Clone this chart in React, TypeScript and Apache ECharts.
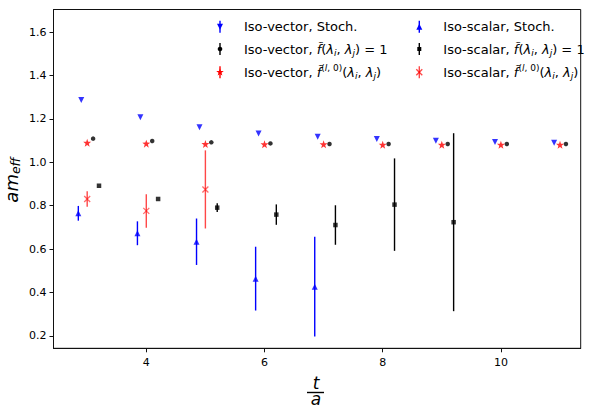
import React, { useEffect, useRef } from "react";
import * as echarts from "echarts";

// ---- data ----
const tSteps = [3, 4, 5, 6, 7, 8, 9, 10, 11];
const ivStoch = [1.287, 1.207, 1.161, 1.133, 1.118, 1.107, 1.099, 1.093, 1.09];
const ivF1 = [1.109, 1.098, 1.092, 1.087, 1.084, 1.084, 1.084, 1.084, 1.084];
const ivF0 = [1.09, 1.086, 1.084, 1.083, 1.083, 1.081, 1.081, 1.081, 1.081];

const isStochT = [3, 4, 5, 6, 7];
const isStoch = [0.765, 0.673, 0.634, 0.464, 0.427];
const isStochErr = [0.034, 0.055, 0.107, 0.147, 0.23];

const isF1T = [3, 4, 5, 6, 7, 8, 9];
const isF1 = [0.892, 0.831, 0.791, 0.759, 0.711, 0.805, 0.724];
const isF1Err = [0.0, 0.0, 0.02, 0.047, 0.091, 0.213, 0.41];

const isF0T = [3, 4, 5];
const isF0 = [0.831, 0.776, 0.875];
const isF0Err = [0.036, 0.077, 0.18];

// horizontal shifts of each series (as in the reference)
const shiftIvStoch = -0.1;
const shiftIvF1 = 0.1;
const shiftIvF0 = 0;
const shiftIsStoch = -0.15;
const shiftIsF1 = 0.2;
const shiftIsF0 = 0;

const xTicks = [4, 6, 8, 10];
const yTicks = [0.2, 0.4, 0.6, 0.8, 1.0, 1.2, 1.4, 1.6];

const FONT = "DejaVu Sans";
const FF = "'DejaVu Sans'";
const BLUE = "#0000ff";
const RED = "#ff0000";
const RED_LIGHT = "rgba(255,0,0,0.72)";
const BLACK = "#000000";

const STAR =
  "path://M0,-10L2.35,-3.24L9.51,-3.09L3.8,1.24L5.88,8.09L0,4L-5.88,8.09L-3.8,1.24L-9.51,-3.09L-2.35,-3.24Z";
const CROSS = "path://M0,0L10,10M10,0L0,10";

function pts(ts: number[], ys: number[], shift: number) {
  return ts.map((t, i) => [t + shift, ys[i]]);
}
function errPts(ts: number[], ys: number[], es: number[], shift: number) {
  return ts.map((t, i) => [t + shift, ys[i], es[i]]);
}

function errSeries(data: number[][], color: string) {
  return {
    type: "custom",
    data,
    encode: { x: 0, y: 1 },
    z: 2,
    silent: true,
    renderItem: (params: any, api: any) => {
      const x = api.value(0);
      const y = api.value(1);
      const e = api.value(2);
      const p1 = api.coord([x, y - e]);
      const p2 = api.coord([x, y + e]);
      return {
        type: "line",
        shape: { x1: p1[0], y1: p1[1], x2: p2[0], y2: p2[1] },
        style: { stroke: color, lineWidth: 1.4 },
      };
    },
  };
}

function starPoints(cx: number, cy: number, r: number) {
  const out: number[][] = [];
  for (let k = 0; k < 10; k++) {
    const rr = k % 2 === 0 ? r : r * 0.4;
    const a = -Math.PI / 2 + (k * Math.PI) / 5;
    out.push([cx + rr * Math.cos(a), cy + rr * Math.sin(a)]);
  }
  return out;
}

// ---- simple math-text layout (pieces with size / italic / vertical shift) ----
type Piece = { t: string; size: number; italic: boolean; dy: number };
const MAIN = 13;
const SMALL = 9;
const N = (t: string): Piece => ({ t, size: MAIN, italic: false, dy: 0 });
const I = (t: string): Piece => ({ t, size: MAIN, italic: true, dy: 0 });
const SB = (t: string): Piece => ({ t, size: SMALL, italic: true, dy: 3.5 });
const SP = (t: string, italic = false): Piece => ({ t, size: SMALL, italic, dy: -4 });

let measureCtx: CanvasRenderingContext2D | null = null;
function fontOf(p: Piece) {
  return `${p.italic ? "italic " : ""}${p.size}px ${FF}`;
}
function measure(text: string, font: string) {
  if (!measureCtx) measureCtx = document.createElement("canvas").getContext("2d");
  if (!measureCtx) return text.length * 7;
  measureCtx.font = font;
  return measureCtx.measureText(text).width;
}
function layoutPieces(pieces: Piece[], x0: number, y: number) {
  const out: any[] = [];
  let x = x0;
  for (const p of pieces) {
    const font = fontOf(p);
    out.push({
      type: "text",
      x,
      y: y + p.dy,
      style: { text: p.t, font, fill: BLACK, align: "left", verticalAlign: "middle" },
    });
    x += measure(p.t, font);
  }
  return { els: out, width: x - x0 };
}

const lamPair = [N("("), I("λ"), SB("i"), N(", "), I("λ"), SB("j"), N(")")];
const legendPieces: Piece[][] = [
  [N("Iso-vector, Stoch.")],
  [N("Iso-vector, "), I("f\u0303"), ...lamPair, N(" = 1")],
  [N("Iso-vector, "), I("f\u0303"), SP("("), SP("l", true), SP(", 0)"), ...lamPair],
  [N("Iso-scalar, Stoch.")],
  [N("Iso-scalar, "), I("f\u0303"), ...lamPair, N(" = 1")],
  [N("Iso-scalar, "), I("f\u0303"), SP("("), SP("l", true), SP(", 0)"), ...lamPair],
];

const legendRows = [26.7, 49, 72.3];
const legendCols = [220, 419.3];
const legendTextX = [244, 443.3];

function legendGraphics() {
  const els: any[] = [];
  for (let k = 0; k < 6; k++) {
    const c = Math.floor(k / 3);
    const r = k % 3;
    const mx = legendCols[c];
    const my = legendRows[r];
    const color = r === 0 ? BLUE : r === 1 ? BLACK : c === 1 ? RED_LIGHT : RED;
    els.push({
      type: "line",
      shape: { x1: mx, y1: my - 6, x2: mx, y2: my + 6 },
      style: { stroke: color, lineWidth: 1.4 },
    });
    if (r === 0 && c === 0) {
      els.push({ type: "polygon", shape: { points: [[mx - 3, my - 3], [mx + 3, my - 3], [mx, my + 3]] }, style: { fill: BLUE } });
    } else if (r === 0 && c === 1) {
      els.push({ type: "polygon", shape: { points: [[mx - 3, my + 3], [mx + 3, my + 3], [mx, my - 3]] }, style: { fill: BLUE } });
    } else if (r === 1 && c === 0) {
      els.push({ type: "circle", shape: { cx: mx, cy: my, r: 2.3 }, style: { fill: BLACK } });
    } else if (r === 1 && c === 1) {
      els.push({ type: "rect", shape: { x: mx - 2, y: my - 2, width: 4, height: 4 }, style: { fill: BLACK } });
    } else if (r === 2 && c === 0) {
      els.push({ type: "polygon", shape: { points: starPoints(mx, my, 4) }, style: { fill: RED } });
    } else {
      els.push({ type: "line", shape: { x1: mx - 3, y1: my - 3, x2: mx + 3, y2: my + 3 }, style: { stroke: RED_LIGHT, lineWidth: 1.3 } });
      els.push({ type: "line", shape: { x1: mx + 3, y1: my - 3, x2: mx - 3, y2: my + 3 }, style: { stroke: RED_LIGHT, lineWidth: 1.3 } });
    }
    els.push(...layoutPieces(legendPieces[k], legendTextX[c], my).els);
  }
  return els;
}

function yLabel() {
  const pieces: Piece[] = [
    { t: "am", size: 18, italic: true, dy: 0 },
    { t: "eff", size: 12.5, italic: true, dy: 4 },
  ];
  const probe = layoutPieces(pieces, 0, 0);
  const { els } = layoutPieces(pieces, -probe.width / 2, 0);
  return { type: "group", x: 11, y: 180, rotation: Math.PI / 2, children: els };
}

export default function App() {
  const ref = useRef<HTMLDivElement>(null);
  useEffect(() => {
    if (!ref.current) return;
    const chart = echarts.init(ref.current, undefined, { renderer: "svg" });
    const option: any = {
      animation: false,
      backgroundColor: "#ffffff",
      grid: { left: 53.5, right: 11.3, top: 9.5, bottom: 58.7, show: true, borderColor: "#111", borderWidth: 1, backgroundColor: "transparent" },
      xAxis: {
        type: "value",
        min: 2.43,
        max: 11.35,
        axisLine: { show: true, onZero: false, lineStyle: { color: "#111", width: 1 } },
        axisTick: { show: true, length: 4, customValues: xTicks, lineStyle: { color: "#111" } },
        axisLabel: { customValues: xTicks, fontSize: 11, fontFamily: FONT, color: "#000", margin: 9, formatter: (v: number) => String(v) },
        splitLine: { show: false },
      },
      yAxis: {
        type: "value",
        min: 0.143,
        max: 1.704,
        axisLine: { show: true, onZero: false, lineStyle: { color: "#111", width: 1 } },
        axisTick: { show: true, length: 4, customValues: yTicks, lineStyle: { color: "#111" } },
        axisLabel: { customValues: yTicks, fontSize: 11, fontFamily: FONT, color: "#000", margin: 7, formatter: (v: number) => v.toFixed(1) },
        splitLine: { show: false },
      },
      graphic: [
        ...legendGraphics(),
        yLabel(),
        { type: "text", x: 316, y: 382.5, style: { text: "t", font: `italic 17px ${FF}`, lineHeight: 13, fill: BLACK, align: "center", verticalAlign: "middle" } },
        { type: "line", shape: { x1: 307, y1: 392.5, x2: 324, y2: 392.5 }, style: { stroke: BLACK, lineWidth: 1.4 } },
        { type: "text", x: 316, y: 398.5, style: { text: "a", font: `italic 17px ${FF}`, lineHeight: 13, fill: BLACK, align: "center", verticalAlign: "middle" } },
      ],
      series: [
        { type: "scatter", name: "IV stoch", data: pts(tSteps, ivStoch, shiftIvStoch), symbol: "triangle", symbolRotate: 180, symbolSize: 6, itemStyle: { color: BLUE }, z: 3 },
        { type: "scatter", name: "IV f1", data: pts(tSteps, ivF1, shiftIvF1), symbol: "circle", symbolSize: 4.5, itemStyle: { color: BLACK }, z: 3 },
        { type: "scatter", name: "IV f0", data: pts(tSteps, ivF0, shiftIvF0), symbol: STAR, symbolSize: 8, itemStyle: { color: RED }, z: 3 },
        errSeries(errPts(isStochT, isStoch, isStochErr, shiftIsStoch), BLUE),
        { type: "scatter", name: "IS stoch", data: pts(isStochT, isStoch, shiftIsStoch), symbol: "triangle", symbolSize: 6, itemStyle: { color: BLUE }, z: 3 },
        errSeries(errPts(isF1T, isF1, isF1Err, shiftIsF1), BLACK),
        { type: "scatter", name: "IS f1", data: pts(isF1T, isF1, shiftIsF1), symbol: "rect", symbolSize: 4.5, itemStyle: { color: BLACK }, z: 3 },
        errSeries(errPts(isF0T, isF0, isF0Err, shiftIsF0), RED_LIGHT),
        { type: "scatter", name: "IS f0", data: pts(isF0T, isF0, shiftIsF0), symbol: CROSS, symbolSize: 6, itemStyle: { color: "transparent", borderColor: RED_LIGHT, borderWidth: 1.3 }, z: 3 },
      ],
    };
    chart.setOption(option);
    return () => chart.dispose();
  }, []);
  return <div ref={ref} style={{ position: "absolute", left: 0, top: 0, width: 592, height: 407 }} />;
}
